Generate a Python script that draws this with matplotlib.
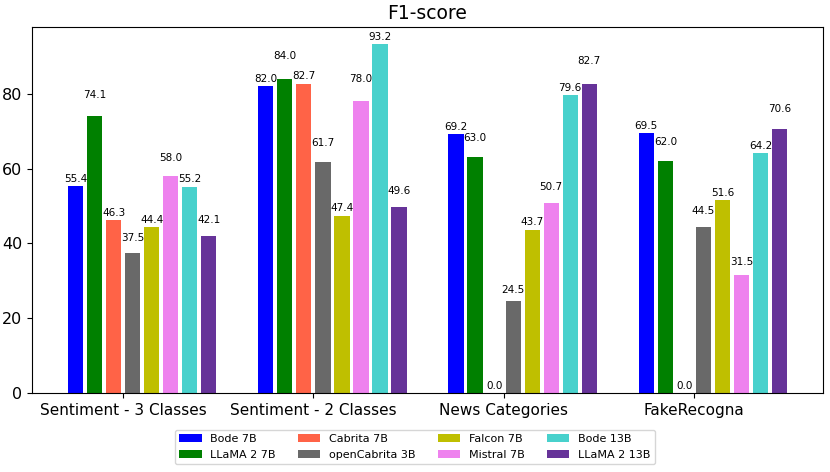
import numpy as np
import matplotlib
matplotlib.use("Agg")
import matplotlib.pyplot as plt

tasks = ["Sentiment - 3 Classes", "Sentiment - 2 Classes", "News Categories", "FakeRecogna"]
models = ["Bode 7B", "LLaMA 2 7B", "Cabrita 7B", "openCabrita 3B",
          "Falcon 7B", "Mistral 7B", "Bode 13B", "LLaMA 2 13B"]
colors = ["blue", "green", "tomato", "dimgray", "y", "violet", "mediumturquoise", "rebeccapurple"]

bode_7b = [55.4, 82.0, 69.2, 69.5]
llama2_7b = [74.1, 84.0, 63.0, 62.0]
cabrita_7b = [46.3, 82.7, 0.0, 0.0]
opencabrita_3b = [37.5, 61.7, 24.5, 44.5]
falcon_7b = [44.4, 47.4, 43.7, 51.6]
mistral_7b = [58.0, 78.0, 50.7, 31.5]
bode_13b = [55.2, 93.2, 79.6, 64.2]
llama2_13b = [42.1, 49.6, 82.7, 70.6]

scores = [bode_7b, llama2_7b, cabrita_7b, opencabrita_3b,
          falcon_7b, mistral_7b, bode_13b, llama2_13b]

fig = plt.figure(figsize=(8.3, 4.72), dpi=100)
ax = fig.add_axes([0.0386, 0.1674, 0.953, 0.7754])

x = np.arange(len(tasks))
step = 0.1
width = 0.08

for i, (name, vals) in enumerate(zip(models, scores)):
    pos = x + i * step
    ax.bar(pos, vals, width, color=colors[i], label=name)
    for px, v in zip(pos, vals):
        # every other model gets its label lifted a bit
        if i % 2 == 1:
            yy = v * 1.05 + 0.6
        else:
            yy = v + 0.6
        ax.text(px, yy, f"{v:.1f}", ha="center", va="bottom", fontsize=7.5)

ax.set_xticks(x + 2.5 * step)
ax.set_xticklabels(tasks, fontsize=11)
ax.tick_params(axis="y", labelsize=11.5)
ax.set_title("F1-score", fontsize=13.5)

fig.legend(loc="lower center", ncol=4, fontsize=8, bbox_to_anchor=(0.5, 0.005),
           handlelength=2, columnspacing=2)

fig.savefig("out.png", dpi=100)
